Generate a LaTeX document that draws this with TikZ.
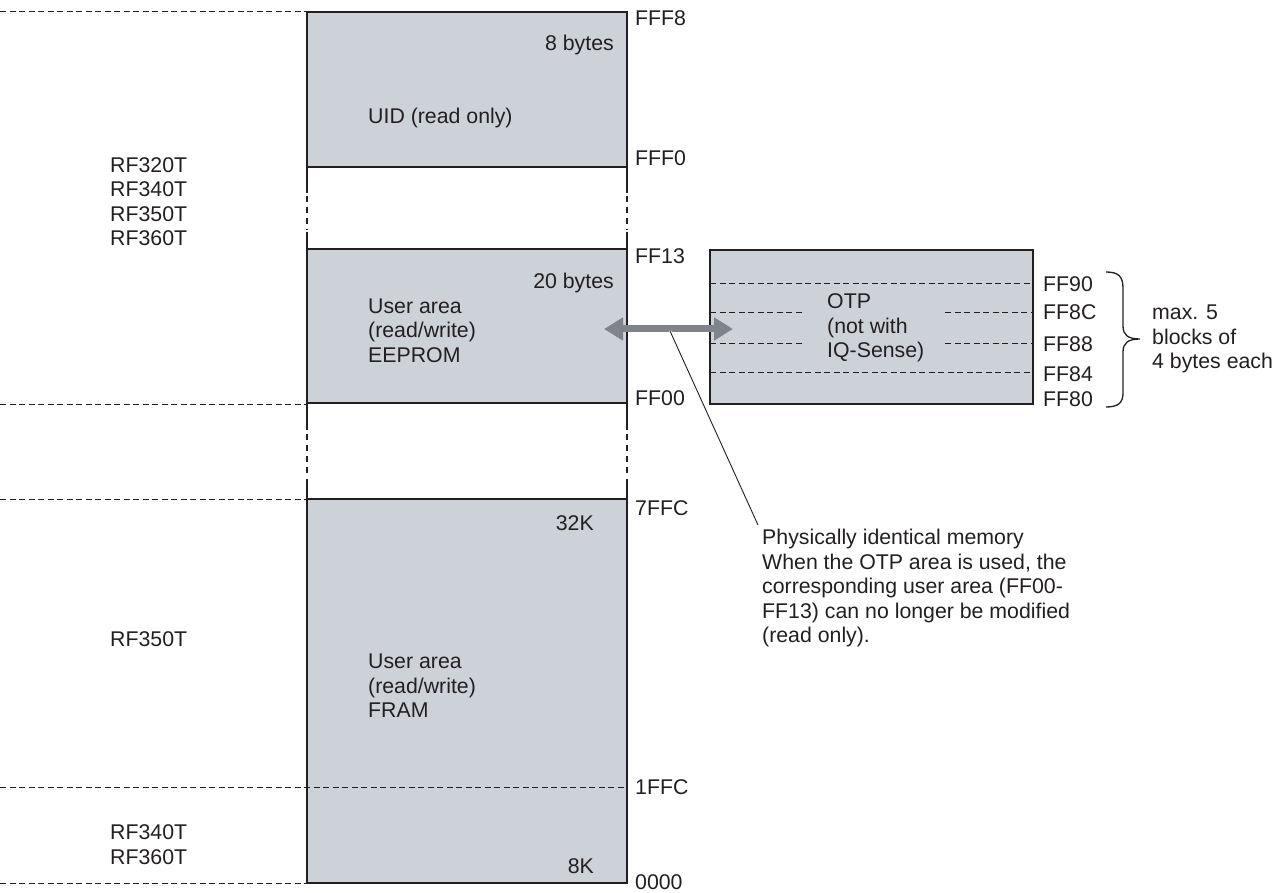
\documentclass[tikz,border=0pt]{standalone}
\usepackage{fontspec}
\setmainfont{Liberation Sans}
\usetikzlibrary{arrows.meta,calc}
\definecolor{memfill}{RGB}{205,210,217}
\definecolor{ink}{RGB}{35,31,32}
\definecolor{arrowgray}{RGB}{128,132,138}
\begin{document}
\begin{tikzpicture}[x=1pt,y=-1pt,
  font=\fontsize{21.3}{24.5}\selectfont,
  mem/.style={fill=memfill, draw=ink, line width=1.8pt},
  side/.style={draw=ink, line width=1.8pt},
  sidedash/.style={draw=ink, line width=1.8pt, dash pattern=on 6pt off 5pt},
  thindash/.style={draw=ink, line width=1pt, dash pattern=on 6pt off 3.5pt},
  lbl/.style={anchor=west, inner sep=0pt, text=ink, align=left},
  rlbl/.style={anchor=east, inner sep=0pt, text=ink},
  bigarrow/.style={draw=arrowgray, line width=7pt,
    {Triangle[length=19pt,width=22pt]}-{Triangle[length=19pt,width=22pt]}},
  leader/.style={draw=ink, line width=0.9pt}
]
\useasboundingbox (0,0) rectangle (1283,893);

% left dashed separators
\draw[thindash] (0,12) -- (307,12);
\draw[thindash] (0,404) -- (307,404);
\draw[thindash] (0,499) -- (307,499);
\draw[thindash] (0,883) -- (307,883);

% memory blocks
\draw[mem] (307,12) rectangle (627,167);
\draw[mem] (307,249) rectangle (627,403);
\draw[mem] (307,499) rectangle (627,883);
\draw[thindash] (0,787) -- (627,787);

% gap sides
\foreach \gx in {307,627}{
  \draw[side] (\gx,167) -- (\gx,193);
  \draw[sidedash] (\gx,196) -- (\gx,230);
  \draw[side] (\gx,232) -- (\gx,249);
  \draw[side] (\gx,403) -- (\gx,430);
  \draw[sidedash] (\gx,434) -- (\gx,476);
  \draw[side] (\gx,479) -- (\gx,499);
}

% OTP box
\draw[mem] (710,250) rectangle (1033,404);
\draw[thindash] (710,284) -- (1033,284);
\draw[thindash] (710,373) -- (1033,373);
\draw[thindash] (710,313) -- (802,313);
\draw[thindash] (945,313) -- (1033,313);
\draw[thindash] (710,344) -- (802,344);
\draw[thindash] (945,344) -- (1033,344);

% left labels
\node[lbl] (grpA) at (110,201.5) {RF320T\\RF340T\\RF350T\\RF360T};
\node[lbl] (grpB) at (110,639) {RF350T};
\node[lbl] (grpC) at (110,844.5) {RF340T\\RF360T};

% address labels
\node[lbl] (aFFF8) at (635,18) {FFF8};
\node[lbl] (aFFF0) at (635,158) {FFF0};
\node[lbl] (aFF13) at (635,256) {FF13};
\node[lbl] (aFF00) at (635,398) {FF00};
\node[lbl] (a7FFC) at (635,508) {7FFC};
\node[lbl] (a1FFC) at (635,787) {1FFC};
\node[lbl] (a0000) at (635,882) {0000};

% inner labels
\node[rlbl] (sz8) at (614,45) {8 bytes};
\node[lbl] (uid) at (368,118) {UID (read only)};
\node[rlbl] (sz20) at (614,283) {20 bytes};
\node[lbl] (eep) at (368,330.5) {User area\\(read/write)\\EEPROM};
\node[rlbl] (sz32) at (594,523) {32K};
\node[lbl] (fram) at (368,686) {User area\\(read/write)\\FRAM};
\node[rlbl] (sz8k) at (594,866) {8K};

% OTP labels
\node[lbl] (otp) at (827,328) {OTP\\(not with\\IQ-Sense)};
\node[lbl] (o90) at (1043,284) {FF90};
\node[lbl] (o8C) at (1043,312) {FF8C};
\node[lbl] (o88) at (1043,344) {FF88};
\node[lbl] (o84) at (1043,374) {FF84};
\node[lbl] (o80) at (1043,399) {FF80};

% brace
\draw[draw=ink, line width=1.3pt] (1106,272) .. controls (1118,272) and (1123,276) .. (1123,288)
  -- (1123,326) .. controls (1123,335) and (1128,339) .. (1140,339)
  .. controls (1128,339) and (1123,343) .. (1123,352)
  -- (1123,393) .. controls (1123,403) and (1118,407) .. (1106,407);
\node[lbl] (blocks) at (1152,339) {max. 5\\blocks of\\4 bytes each};

% double arrow
\coordinate (arrL) at (604,329);
\coordinate (arrR) at (733,329);
\draw[bigarrow] (arrL) -- (arrR);

% leader and note
\coordinate (leadS) at (670,331);
\coordinate (leadE) at (758,525);
\draw[draw=white, line width=2.5pt] (leadS) -- ($(leadS)!0.03!(leadE)$);
\draw[leader] (leadS) -- (leadE);
\node[lbl] (note) at (762,588) {Physically identical memory\\When the OTP area is used, the\\corresponding user area (FF00-\\FF13) can no longer be modified\\(read only).};
\end{tikzpicture}
\end{document}
